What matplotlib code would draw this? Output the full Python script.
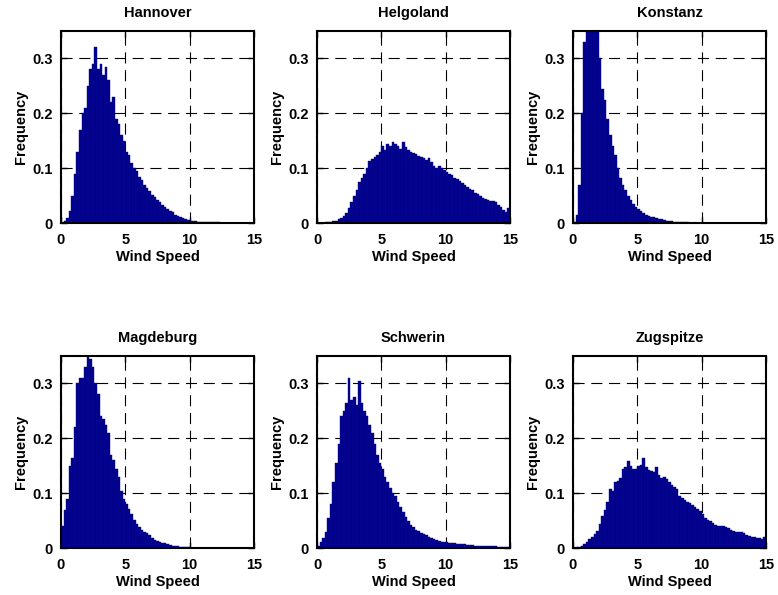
import numpy as np
import matplotlib.pyplot as plt

plt.rcParams['font.family'] = ['Liberation Sans', 'DejaVu Sans']
plt.rcParams['font.weight'] = 'bold'

# histogram bins: width 0.2 from 0 to 15
bin_edges = np.arange(0, 15.0001, 0.2)

hannover = [0.001, 0.004, 0.010, 0.022, 0.050, 0.090, 0.130, 0.170, 0.200, 0.210,
            0.250, 0.280, 0.290, 0.320, 0.280, 0.290, 0.270, 0.285, 0.260, 0.220,
            0.230, 0.190, 0.180, 0.160, 0.150, 0.130, 0.125, 0.110, 0.100, 0.095,
            0.085, 0.078, 0.070, 0.065, 0.058, 0.052, 0.048, 0.042, 0.038, 0.033,
            0.030, 0.026, 0.022, 0.020, 0.016, 0.013, 0.011, 0.009, 0.008, 0.006,
            0.005, 0.004, 0.004, 0.003, 0.003, 0.003, 0.002, 0.002, 0.002, 0.002,
            0.002, 0.002, 0.001, 0.001, 0.001, 0.001, 0.001, 0.001, 0.001, 0.001,
            0.001, 0.001, 0.001, 0.001, 0.001]

helgoland = [0.001, 0.001, 0.001, 0.002, 0.002, 0.003, 0.004, 0.005, 0.008, 0.010,
             0.014, 0.018, 0.027, 0.038, 0.050, 0.060, 0.075, 0.083, 0.090, 0.100,
             0.113, 0.117, 0.120, 0.125, 0.130, 0.140, 0.133, 0.145, 0.140, 0.148,
             0.145, 0.140, 0.135, 0.148, 0.138, 0.133, 0.130, 0.128, 0.126, 0.122,
             0.120, 0.118, 0.115, 0.118, 0.112, 0.105, 0.100, 0.104, 0.100, 0.097,
             0.093, 0.090, 0.087, 0.083, 0.080, 0.077, 0.073, 0.070, 0.066, 0.062,
             0.060, 0.056, 0.053, 0.050, 0.046, 0.044, 0.042, 0.041, 0.040, 0.038,
             0.034, 0.030, 0.024, 0.021, 0.028]

konstanz = [0.003, 0.015, 0.070, 0.200, 0.330, 0.400, 0.440, 0.430, 0.400, 0.360,
            0.300, 0.245, 0.225, 0.190, 0.160, 0.140, 0.125, 0.100, 0.082, 0.070,
            0.060, 0.050, 0.042, 0.035, 0.030, 0.026, 0.022, 0.019, 0.016, 0.014,
            0.012, 0.011, 0.009, 0.008, 0.007, 0.006, 0.005, 0.004, 0.004, 0.003,
            0.003, 0.002, 0.002, 0.002, 0.002, 0.001, 0.001, 0.001, 0.001, 0.001,
            0.001, 0.001, 0.001, 0.001, 0.001, 0.001, 0.001, 0.001, 0.001, 0.001,
            0.001, 0.001, 0.001, 0.001, 0.001, 0.001, 0.001, 0.001, 0.001, 0.001,
            0.001, 0.001, 0.001, 0.001, 0.001]

magdeburg = [0.040, 0.070, 0.090, 0.150, 0.165, 0.220, 0.300, 0.310, 0.310, 0.330,
             0.350, 0.345, 0.330, 0.300, 0.280, 0.240, 0.235, 0.225, 0.210, 0.170,
             0.160, 0.145, 0.130, 0.105, 0.090, 0.080, 0.072, 0.063, 0.052, 0.045,
             0.038, 0.033, 0.030, 0.027, 0.024, 0.018, 0.015, 0.013, 0.012, 0.010,
             0.009, 0.007, 0.006, 0.005, 0.004, 0.004, 0.003, 0.003, 0.002, 0.002,
             0.001, 0.001, 0.001, 0.001, 0.001, 0.001, 0.001, 0.001, 0.001, 0.001,
             0.001, 0.001, 0.001, 0.001, 0.001, 0.001, 0.001, 0.001, 0.001, 0.001,
             0.001, 0.001, 0.001, 0.001, 0.001]

schwerin = [0.005, 0.012, 0.018, 0.030, 0.055, 0.080, 0.120, 0.155, 0.190, 0.240,
            0.250, 0.265, 0.310, 0.270, 0.275, 0.260, 0.305, 0.265, 0.250, 0.240,
            0.225, 0.210, 0.190, 0.170, 0.155, 0.145, 0.130, 0.120, 0.110, 0.100,
            0.095, 0.085, 0.075, 0.066, 0.057, 0.050, 0.043, 0.038, 0.034, 0.031,
            0.028, 0.026, 0.024, 0.021, 0.019, 0.017, 0.015, 0.014, 0.012, 0.012,
            0.011, 0.010, 0.009, 0.009, 0.008, 0.007, 0.007, 0.007, 0.006, 0.006,
            0.006, 0.005, 0.005, 0.005, 0.005, 0.004, 0.004, 0.004, 0.004, 0.004,
            0.003, 0.003, 0.003, 0.003, 0.003]

zugspitze = [0.001, 0.002, 0.003, 0.005, 0.008, 0.011, 0.016, 0.021, 0.026, 0.032,
             0.045, 0.058, 0.070, 0.085, 0.108, 0.105, 0.120, 0.122, 0.128, 0.145,
             0.148, 0.158, 0.150, 0.144, 0.145, 0.150, 0.152, 0.165, 0.148, 0.143,
             0.140, 0.138, 0.148, 0.133, 0.128, 0.130, 0.126, 0.120, 0.115, 0.112,
             0.108, 0.095, 0.092, 0.088, 0.085, 0.082, 0.078, 0.075, 0.072, 0.068,
             0.062, 0.055, 0.052, 0.050, 0.046, 0.042, 0.041, 0.040, 0.040, 0.039,
             0.036, 0.033, 0.031, 0.029, 0.030, 0.029, 0.027, 0.025, 0.023, 0.021,
             0.020, 0.019, 0.018, 0.016, 0.020]

stations = ["Hannover", "Helgoland", "Konstanz", "Magdeburg", "Schwerin", "Zugspitze"]
series = [hannover, helgoland, konstanz, magdeburg, schwerin, zugspitze]

fig = plt.figure(figsize=(7.78, 5.95), dpi=100)
lefts = [0.0784, 0.4075, 0.7365]
bottoms = [0.6247, 0.0785]
w, h = 0.248, 0.3235

for i, (name, vals) in enumerate(zip(stations, series)):
    ax = fig.add_axes([lefts[i % 3], bottoms[i // 3], w, h])
    ax.bar(bin_edges[:-1], vals, width=0.2, align="edge",
           color="#00008B", edgecolor="#0A0A95", linewidth=0.3)
    ax.set_xlim(0, 15)
    ax.set_ylim(0, 0.35)
    ax.set_xticks([0, 5, 10, 15])
    ax.set_yticks([0, 0.1, 0.2, 0.3])
    ax.set_yticklabels(["0", "0.1", "0.2", "0.3"])
    ax.grid(True, color="black", linestyle=(0, (10, 6)), linewidth=0.8)
    ax.set_axisbelow(True)
    ax.tick_params(direction="in", length=4, width=1, labelsize=10.5,
                   top=True, right=True)
    ax.tick_params(axis="x", pad=7)
    ax.tick_params(axis="y", pad=6)
    for s in ax.spines.values():
        s.set_linewidth(1.5)
    ax.set_title(name, fontsize=10.5, fontweight="bold", pad=10)
    ax.set_xlabel("Wind Speed", fontsize=10.5, fontweight="bold", labelpad=2)
    ax.set_ylabel("Frequency", fontsize=10.5, fontweight="bold", labelpad=3)

fig.savefig("out.png", dpi=100)
